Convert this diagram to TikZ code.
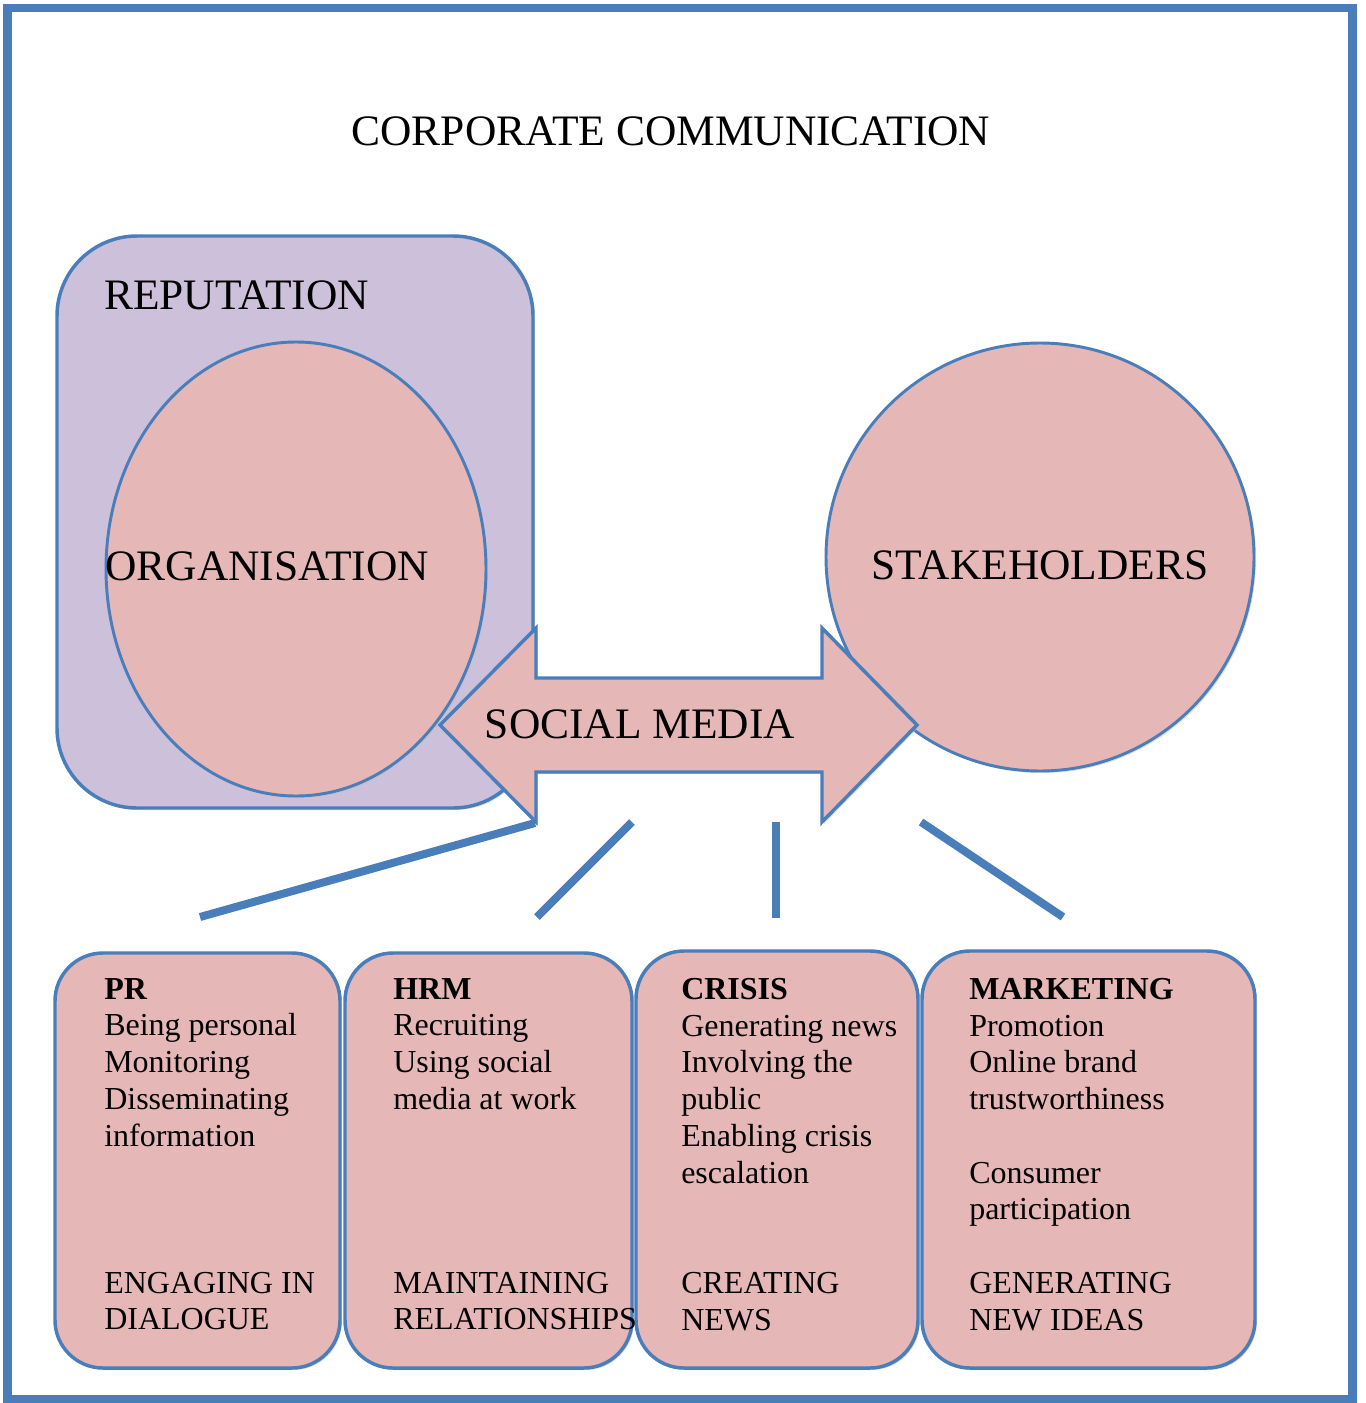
\documentclass[tikz,border=0pt]{standalone}
\usepackage{fontspec}
\setmainfont{Liberation Serif}
\usetikzlibrary{shapes.geometric,shadows}

\definecolor{blueline}{RGB}{74,126,187}
\definecolor{pinkfill}{RGB}{229,183,182}
\definecolor{lilacfill}{RGB}{204,192,218}

\newcommand{\diagbig}{\fontsize{32.6}{37}\selectfont}
\newcommand{\diagsmall}{\fontsize{24}{27.56}\selectfont}

\tikzset{
  softshadow/.style={drop shadow={shadow xshift=1.5pt,shadow yshift=-1.5pt,fill=black!25}},
  blueedge/.style={draw=blueline,line width=2.6pt},
  panel/.style={blueedge,fill=pinkfill,rounded corners=36pt,softshadow,inner sep=0pt},
  bubble/.style={draw=blueline,line width=2.2pt,fill=pinkfill,softshadow,inner sep=0pt},
  bigtext/.style={font=\diagbig,inner sep=0pt,anchor=base},
  paneltext/.style={font=\diagsmall,align=left,inner sep=0pt,anchor=north west},
  spoke/.style={draw=blueline,line width=6pt},
}

\begin{document}
\begin{tikzpicture}[x=0.75pt,y=0.75pt,yscale=-1,xscale=1]
\useasboundingbox (0,0) rectangle (1365,1403);

% outer frame
\draw [draw=blueline,line width=6.5pt] (7.5,8) rectangle (1352.5,1399);
% Title
\node [bigtext] (title) at (671,145) {CORPORATE COMMUNICATION};

% Reputation box
\node [panel,fill=lilacfill,rounded corners=60pt,minimum width=357pt,minimum height=429pt] (rep) at (295,522) {};
\node [bigtext,anchor=base west] (reptext) at (104,309) {REPUTATION};

% Organisation
\node [bubble,ellipse,minimum width=285pt,minimum height=340.5pt] (org) at (296,569) {};
\node [bigtext,anchor=base west] (orgtext) at (105,580) {ORGANISATION};

% Stakeholders
\node [bubble,circle,minimum size=321pt] (stake) at (1040,557) {};
\node [bigtext] (staketext) at (1040,579) {STAKEHOLDERS};

% Double arrow
\draw [blueedge,fill=pinkfill,softshadow,line join=miter] (440,725) -- (536,628) -- (536,678) -- (822,678) -- (822,628) -- (917,725) -- (822,822) -- (822,772) -- (536,772) -- (536,822) -- cycle;
\node [bigtext] (socialtext) at (640,738) {SOCIAL MEDIA};

% spokes
\coordinate (s1a) at (535,823);
\coordinate (s1b) at (200,917);
\coordinate (s2a) at (632,822);
\coordinate (s2b) at (537,917);
\coordinate (s3a) at (776,822);
\coordinate (s3b) at (776,918);
\coordinate (s4a) at (921,822);
\coordinate (s4b) at (1063,917);
\draw [spoke] (s1a) -- (s1b);
\draw [spoke] (s2a) -- (s2b);
\draw [spoke] (s3a) -- (s3b);
\draw [spoke] (s4a) -- (s4b);

% Bottom panels
\node [panel,minimum width=213.75pt,minimum height=311.25pt] (prbox) at (197.5,1160.5) {};
\node [panel,minimum width=215.25pt,minimum height=311.25pt] (hrmbox) at (488.5,1160.5) {};
\node [panel,minimum width=211.5pt,minimum height=312.75pt] (crisisbox) at (777,1159.5) {};
\node [panel,minimum width=249.75pt,minimum height=312.75pt] (mktbox) at (1088.5,1159.5) {};

% Panel texts
\node [paneltext] (prtext) at (104,978) {\textbf{PR}\\Being personal\\Monitoring\\Disseminating\\information\\{}\\{}\\{}\\ENGAGING IN\\DIALOGUE};
\node [paneltext] (hrmtext) at (393,978) {\textbf{HRM}\\Recruiting\\Using social\\media at work\\{}\\{}\\{}\\{}\\MAINTAINING\\RELATIONSHIPS};
\node [paneltext] (crisistext) at (681,978) {\textbf{CRISIS}\\Generating news\\Involving the\\public\\Enabling crisis\\escalation\\{}\\{}\\CREATING\\NEWS};
\node [paneltext] (mkttext) at (969,978) {\textbf{MARKETING}\\Promotion\\Online brand\\trustworthiness\\{}\\Consumer\\participation\\{}\\GENERATING\\NEW IDEAS};
\end{tikzpicture}
\end{document}
